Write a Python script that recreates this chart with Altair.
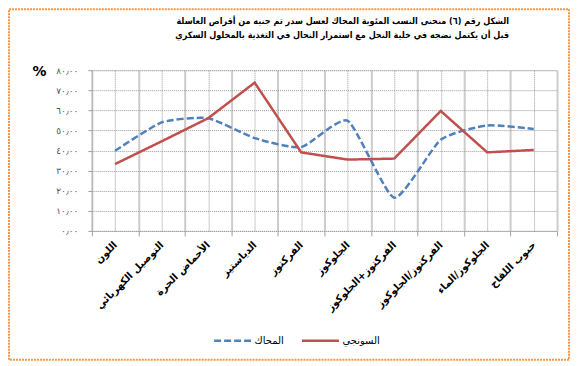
import json
import altair as alt
import pandas as pd

# ---- data ----
cats = ["اللون", "التوصيل الكهربائي", "الأحماض الحرة", "الدياستيز", "الفركتوز",
        "الجلوكوز", "الفركتوز+الجلوكوز", "الفركتوز/الجلوكوز", "الجلوكوز/الماء", "حبوب اللقاح"]
mahak = [39.9, 54.0, 56.1, 46.2, 41.7, 54.8, 16.5, 45.4, 52.5, 50.7]
sonji = [33.3, 44.6, 56.1, 73.8, 39.1, 35.5, 36.0, 59.7, 39.1, 40.3]
series_names = ["المحاك", "السونجي"]
y_labels = ["٠٫٠٠", "١٠٫٠٠", "٢٠٫٠٠", "٣٠٫٠٠", "٤٠٫٠٠", "٥٠٫٠٠", "٦٠٫٠٠", "٧٠٫٠٠", "٨٠٫٠٠"]
title_lines = [
    "الشكل رقم (٦) منحنى النسب المئوية المحاك لعسل سدر تم جنيه من أقراص العاسلة",
    "قبل أن يكتمل نضجه في خلية النحل مع استمرار النحال في التغذية بالمحلول السكري",
]

rows = []
for i, c in enumerate(cats):
    rows.append({"idx": i, "cat": c, "series": series_names[0], "value": mahak[i]})
    rows.append({"idx": i, "cat": c, "series": series_names[1], "value": sonji[i]})
df = pd.DataFrame(rows)

FONT = "DejaVu Sans"
TFONT = "DejaVu Sans Condensed, DejaVu Sans"
W, H = 466, 161
PAD = {"left": 84, "top": 62, "right": 13, "bottom": 130}

x_vals = [i / 2 - 0.5 for i in range(21)]
cats_js = json.dumps(cats, ensure_ascii=False)
ylab_js = json.dumps(y_labels, ensure_ascii=False)

x_enc = alt.X(
    "idx:Q",
    title=None,
    scale=alt.Scale(domain=[-0.5, 9.5], nice=False, zero=False),
    axis=alt.Axis(
        values=x_vals,
        labelExpr=f"datum.value % 1 === 0 ? {cats_js}[datum.value] : ''",
        labelAngle=-45,
        labelAlign="right",
        labelBaseline="middle",
        labelPadding=7,
        labelFont=FONT,
        labelFontSize=10,
        labelFontWeight="bold",
        labelColor="#000000",
        labelOverlap=False,
        labelBound=False,
        labelFlush=False,
        tickSize=5,
        tickColor="#a0a0a0",
        tickOpacity={"condition": {"test": "datum.value % 1 === 0", "value": 0}, "value": 1},
        domainColor="#a0a0a0",
        domainDash=[1, 1],
        grid=True,
        gridColor={"condition": {"test": "datum.value % 1 === 0", "value": "#9a9a9a"}, "value": "#cccccc"},
        gridDash={"condition": {"test": "datum.value % 1 === 0", "value": [1, 1]}, "value": []},
        gridWidth={"condition": {"test": "datum.value % 1 === 0", "value": 1}, "value": 2},
    ),
)

y_enc = alt.Y(
    "value:Q",
    scale=alt.Scale(domain=[0, 80], nice=False),
    axis=alt.Axis(
        values=[0, 10, 20, 30, 40, 50, 60, 70, 80],
        labelExpr=f"{ylab_js}[round(datum.value / 10)]",
        labelFont=FONT,
        labelFontSize=9,
        labelColor="#505050",
        labelPadding=10,
        tickSize=4,
        tickColor="#a0a0a0",
        domainColor="#a0a0a0",
        domainDash=[1, 1],
        grid=True,
        gridColor="#9a9a9a",
        gridDash=[1, 1],
        title="%",
        titleAngle=0,
        titleX=-53,
        titleY=1,
        titleAlign="center",
        titleBaseline="middle",
        titleFont=FONT,
        titleFontSize=14,
        titleFontWeight="bold",
        titleColor="#000000",
    ),
)

legend = alt.Legend(
    title=None,
    orient="none",
    legendX=121,
    legendY=251,
    direction="horizontal",
    symbolType="stroke",
    symbolSize=1369,
    symbolStrokeWidth=2.5,
    labelFont=FONT,
    labelFontSize=10,
    labelColor="#000000",
    labelOffset=2,
    columnPadding=12,
)

color_enc = alt.Color("series:N", scale=alt.Scale(domain=series_names, range=["#4F81BD", "#C0504D"]),
                      legend=legend)
dash_enc = alt.StrokeDash("series:N", scale=alt.Scale(domain=series_names, range=[[7, 3], [1, 0]]),
                          legend=legend)

base = alt.Chart(df).encode(x=x_enc, y=y_enc, color=color_enc, strokeDash=dash_enc)

blue = base.transform_filter(alt.datum.series == series_names[0]).mark_line(
    interpolate="cardinal", tension=0.45, strokeWidth=2.5)
red = base.transform_filter(alt.datum.series == series_names[1]).mark_line(strokeWidth=2.5)

frame = alt.Chart(alt.Data(values=[{"f": 1}])).mark_rect(
    fill="transparent", stroke="#F79646", strokeWidth=2, strokeDash=[2, 1]
).encode(
    x=alt.value(-PAD["left"] + 1),
    x2=alt.value(W + PAD["right"] - 1),
    y=alt.value(-PAD["top"] + 1),
    y2=alt.value(H + PAD["bottom"] - 1),
)

title_layers = []
for k, line in enumerate(title_lines):
    title_layers.append(
        alt.Chart(alt.Data(values=[{"t": line}])).mark_text(
            align="right", baseline="middle", font=TFONT, fontSize=9, fontWeight="bold",
            color="#000000",
        ).encode(text="t:N", x=alt.value(418), y=alt.value(-49 + 14 * k))
    )

chart = alt.layer(frame, blue, red, *title_layers).properties(
    width=W,
    height=H,
    padding=PAD,
    autosize=alt.AutoSizeParams(type="none"),
).configure_view(stroke=None).configure(background="white")

chart.save("out.html", embed_options={"renderer": "svg", "actions": False})
